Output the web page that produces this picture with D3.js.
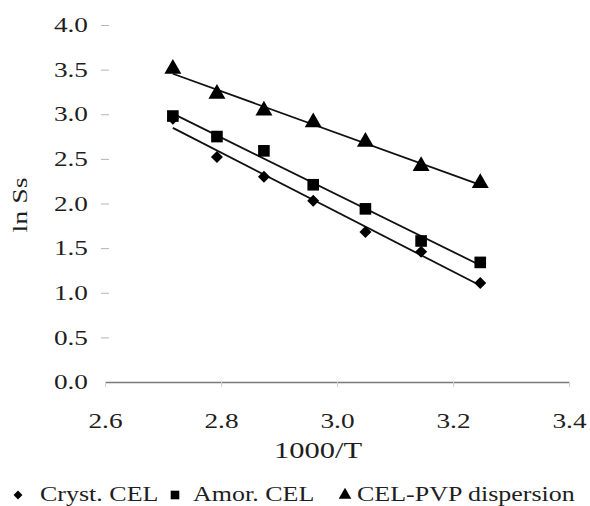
<!DOCTYPE html>
<html>
<head>
<meta charset="utf-8">
<script src="https://cdn.jsdelivr.net/npm/d3@7"></script>
<style>
  html, body { margin: 0; padding: 0; background: #fff; }
  svg { display: block; }
</style>
</head>
<body>
<svg id="chart" width="590" height="506"></svg>
<script>
// 1000/T for T = 368 ... 308 K
const invTemp = [2.717, 2.793, 2.874, 2.959, 3.049, 3.145, 3.247];
const crystCel = [2.95, 2.52, 2.30, 2.03, 1.68, 1.46, 1.11];
const amorCel = [2.98, 2.75, 2.59, 2.21, 1.94, 1.58, 1.34];
const pvpDisp = [3.51, 3.23, 3.04, 2.91, 2.69, 2.42, 2.23];
const xTicks = [2.6, 2.8, 3.0, 3.2, 3.4];
const yTicks = [0, 0.5, 1, 1.5, 2, 2.5, 3, 3.5, 4];
const seriesNames = ["Cryst. CEL", "Amor. CEL", "CEL-PVP dispersion"];

const FONT = "'Liberation Serif', 'Times New Roman', serif";
const stretch = 1.3;

const series = [
  { name: seriesNames[0], values: crystCel, symbol: d3.symbolSquare, size: 72, rotate: 45 },
  { name: seriesNames[1], values: amorCel, symbol: d3.symbolSquare, size: 135, rotate: 0 },
  { name: seriesNames[2], values: pvpDisp, symbol: d3.symbolTriangle, size: 125, rotate: 0 }
];

const svg = d3.select("#chart");

const x = d3.scaleLinear().domain([2.6, 3.4]).range([105, 569]);
const y = d3.scaleLinear().domain([0, 4]).range([382, 25]);

function styleText(sel, size) {
  sel.attr("font-family", FONT)
    .style("font-family", FONT)
    .style("font-size", `${size}px`)
    .attr("fill", "#1e1e1e");
}

// x axis
const xAxis = svg.append("g")
  .attr("transform", `translate(0,${y(0)})`)
  .call(d3.axisBottom(x).tickValues(xTicks).tickFormat(d3.format(".1f")).tickSize(5).tickSizeOuter(0));
xAxis.attr("font-family", null).attr("font-size", null);
xAxis.select(".domain").attr("stroke", "#7a7a7a").attr("stroke-width", 1.3);
xAxis.selectAll(".tick line").attr("stroke", "#d0d0d0");
xAxis.selectAll(".tick text")
  .attr("y", 31)
  .attr("transform", `scale(${stretch},1)`)
  .call(styleText, 21);

// y axis (ticks only, no axis line)
const yAxis = svg.append("g")
  .attr("transform", `translate(${x(2.6)},0)`)
  .call(d3.axisLeft(y).tickValues(yTicks).tickFormat(d3.format(".1f")).tickSize(0));
yAxis.attr("font-family", null).attr("font-size", null);
yAxis.select(".domain").remove();
yAxis.selectAll(".tick line").filter((d) => d > 0)
  .attr("x1", -4).attr("x2", 4).attr("stroke", "#b5b5b5");
yAxis.selectAll(".tick text")
  .attr("x", -17 / stretch)
  .attr("transform", `scale(${stretch},1)`)
  .call(styleText, 21);

// linear trend lines (least squares)
function fit(values) {
  const mx = d3.mean(invTemp);
  const my = d3.mean(values);
  const sxy = d3.sum(invTemp, (v, i) => (v - mx) * (values[i] - my));
  const sxx = d3.sum(invTemp, (v) => (v - mx) ** 2);
  const b = sxy / sxx;
  return (t) => my + b * (t - mx);
}

const plot = svg.append("g");
series.forEach((s) => {
  const f = fit(s.values);
  const ends = d3.extent(invTemp);
  plot.append("path")
    .attr("d", d3.line().x((t) => x(t)).y((t) => y(f(t)))(ends))
    .attr("stroke", "#111")
    .attr("stroke-width", 1.8)
    .attr("fill", "none");
});

series.forEach((s) => {
  plot.selectAll(null)
    .data(s.values)
    .join("path")
    .attr("transform", (v, i) => `translate(${x(invTemp[i])},${y(v)}) rotate(${s.rotate})`)
    .attr("d", d3.symbol().type(s.symbol).size(s.size))
    .attr("fill", "#000");
});

// axis titles
svg.append("text")
  .attr("transform", `translate(318,458) scale(${stretch},1)`)
  .attr("text-anchor", "middle")
  .call(styleText, 23.5)
  .text("1000/T");

svg.append("text")
  .attr("transform", `translate(27,205) rotate(-90) scale(${stretch},1)`)
  .attr("text-anchor", "middle")
  .call(styleText, 21.5)
  .text("ln Ss");

// legend
const legendSymbolX = [18, 175, 345];
const legendTextX = [40, 193, 357];
const legend = svg.append("g").attr("transform", "translate(0,495)");
series.forEach((s, i) => {
  legend.append("path")
    .attr("transform", `translate(${legendSymbolX[i]},0) rotate(${s.rotate})`)
    .attr("d", d3.symbol().type(s.symbol).size(s.size * 0.55))
    .attr("fill", "#000");
  legend.append("text")
    .attr("transform", `translate(${legendTextX[i]},6) scale(${stretch},1)`)
    .call(styleText, 20)
    .text(s.name);
});
</script>
</body>
</html>
